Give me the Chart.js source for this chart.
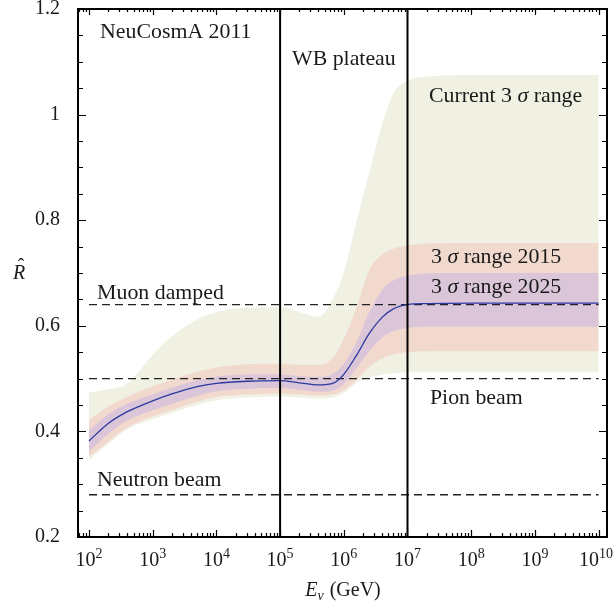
<!DOCTYPE html>
<html>
<head>
<meta charset="utf-8">
<script src="https://cdn.jsdelivr.net/npm/chart.js@4.4.1/dist/chart.umd.min.js"></script>
<style>
  html, body { margin: 0; padding: 0; background: #fff; }
</style>
</head>
<body>
<canvas id="ratio" width="613" height="607"></canvas>
<script>
// neutrino energy grid (GeV)
const energy = [1e2, 2e2, 3.8e2, 6e2, 1e3, 2e3, 5e3, 1e4, 3e4, 1e5, 2e5, 4e5, 7e5, 1e6, 1.6e6, 2.5e6, 4e6, 6e6, 1e7, 2e7, 1e8, 1e9, 1e10];

// flavour ratio R, best fit
const rCentral = [0.382, 0.415, 0.436, 0.447, 0.458, 0.471, 0.485, 0.491, 0.495, 0.496, 0.492, 0.488, 0.492, 0.508, 0.545, 0.585, 0.616, 0.632, 0.640, 0.642, 0.643, 0.643, 0.643];

// current 3 sigma range
const curUpper = [0.474, 0.480, 0.489, 0.513, 0.545, 0.580, 0.612, 0.626, 0.634, 0.635, 0.626, 0.617, 0.655, 0.700, 0.800, 0.890, 0.982, 1.040, 1.064, 1.072, 1.075, 1.075, 1.075];
const curLower = [0.346, 0.376, 0.402, 0.414, 0.423, 0.435, 0.450, 0.459, 0.464, 0.466, 0.464, 0.462, 0.464, 0.473, 0.492, 0.502, 0.508, 0.510, 0.512, 0.512, 0.512, 0.512, 0.512];

// 3 sigma range 2015
const r15Upper = [0.421, 0.447, 0.464, 0.475, 0.485, 0.498, 0.513, 0.521, 0.527, 0.528, 0.526, 0.526, 0.542, 0.575, 0.635, 0.705, 0.735, 0.746, 0.752, 0.756, 0.757, 0.757, 0.757];
const r15Lower = [0.352, 0.380, 0.406, 0.418, 0.428, 0.440, 0.456, 0.465, 0.470, 0.472, 0.470, 0.468, 0.470, 0.478, 0.498, 0.522, 0.538, 0.546, 0.550, 0.552, 0.552, 0.552, 0.552];

// 3 sigma range 2025
const r25Upper = [0.402, 0.432, 0.451, 0.461, 0.470, 0.483, 0.497, 0.504, 0.508, 0.508, 0.505, 0.503, 0.510, 0.528, 0.570, 0.625, 0.668, 0.686, 0.695, 0.699, 0.700, 0.700, 0.700];
const r25Lower = [0.362, 0.395, 0.419, 0.430, 0.440, 0.452, 0.467, 0.476, 0.481, 0.482, 0.479, 0.475, 0.478, 0.490, 0.520, 0.552, 0.578, 0.590, 0.596, 0.598, 0.598, 0.598, 0.598];

// source benchmarks (dashed) and region boundaries
const benchmarks = [0.64, 0.5, 0.28];
const boundaries = [1e5, 1e7];
const benchSpan = [1e2, 1e10];

const xTicks = [1e2, 1e3, 1e4, 1e5, 1e6, 1e7, 1e8, 1e9, 1e10];

const FAMILY = '"Liberation Serif", "DejaVu Serif", serif';
const FONT = '20px ' + FAMILY;
const NOTE_FONT = '21px ' + FAMILY;

const pts = arr => arr.map((v, i) => ({ x: energy[i], y: v }));

// higher order is painted first, so the wide band sits at the bottom
function band(upper, lower, color, order) {
  const common = { pointRadius: 0, borderWidth: 0, cubicInterpolationMode: 'monotone', backgroundColor: color, order };
  return [
    Object.assign({ data: pts(upper), fill: '+1' }, common),
    Object.assign({ data: pts(lower), fill: false }, common)
  ];
}

const datasets = [
  ...band(curUpper, curLower, '#f0f0e3', 9),
  ...band(r15Upper, r15Lower, '#f2d9ce', 8),
  ...band(r25Upper, r25Lower, '#dac5d9', 7),
];
benchmarks.forEach(v => datasets.push({
  data: benchSpan.map(x => ({ x, y: v })), order: 3,
  borderColor: '#222', borderWidth: 1.3, borderDash: [8, 5], pointRadius: 0, fill: false
}));
datasets.push({
  data: pts(rCentral), order: 2, borderColor: '#2b3a9e', borderWidth: 1.3,
  pointRadius: 0, fill: false, cubicInterpolationMode: 'monotone'
});
boundaries.forEach(x => datasets.push({
  data: [{ x, y: 0.2 }, { x, y: 1.2 }], order: 1,
  borderColor: '#000', borderWidth: 2, pointRadius: 0, fill: false
}));

const notes = [
  { parts: [['NeuCosmA 2011']], x: 149, y: 1.145 },
  { parts: [['WB plateau']], x: 1.54e5, y: 1.094 },
  { parts: [['Current 3 '], ['σ', true], [' range']], x: 2.17e7, y: 1.024 },
  { parts: [['3 '], ['σ', true], [' range 2015']], x: 2.34e7, y: 0.719 },
  { parts: [['3 '], ['σ', true], [' range 2025']], x: 2.34e7, y: 0.662 },
  { parts: [['Muon damped']], x: 134, y: 0.651 },
  { parts: [['Pion beam']], x: 2.25e7, y: 0.452 },
  { parts: [['Neutron beam']], x: 134, y: 0.297 }
];

function drawRich(ctx, parts, x, y) {
  ctx.save();
  ctx.translate(x, y);
  ctx.scale(1.04, 1);
  let cx = 0;
  for (const [txt, italic] of parts) {
    ctx.font = (italic ? 'italic ' : '') + NOTE_FONT;
    ctx.fillText(txt, cx, 0);
    cx += ctx.measureText(txt).width;
  }
  ctx.restore();
}

// frame, inward ticks, decade labels, in-plot labels and axis titles
const framePlugin = {
  id: 'frame',
  afterDraw(chart) {
    const { ctx, chartArea: a, scales: { x, y } } = chart;
    ctx.save();
    ctx.strokeStyle = '#000';
    ctx.lineWidth = 1.2;
    ctx.beginPath();
    for (let e = 1; e <= 10; e++) {
      for (let k = 1; k <= 9; k++) {
        const v = k * Math.pow(10, e);
        if (v < x.min || v > x.max) continue;
        const px = Math.round(x.getPixelForValue(v)) + 0.5;
        const len = k === 1 ? 7 : 4;
        ctx.moveTo(px, a.bottom); ctx.lineTo(px, a.bottom - len);
        ctx.moveTo(px, a.top); ctx.lineTo(px, a.top + len - 1);
      }
    }
    for (let i = 0; i <= 20; i++) {
      const v = 0.2 + i * 0.05;
      const py = Math.round(y.getPixelForValue(v)) + 0.5;
      const len = i % 4 === 0 ? 8 : 5;
      ctx.moveTo(a.left, py); ctx.lineTo(a.left + len, py);
      ctx.moveTo(a.right, py); ctx.lineTo(a.right - len, py);
    }
    ctx.stroke();
    ctx.lineWidth = 2;
    ctx.strokeRect(a.left, a.top, a.right - a.left, a.bottom - a.top);

    ctx.fillStyle = '#1a1a1a';
    ctx.textBaseline = 'alphabetic';
    ctx.textAlign = 'left';

    // decade labels 10^n with a raised exponent
    xTicks.forEach(v => {
      const exp = String(Math.round(Math.log10(v)));
      ctx.font = FONT;
      const wb = ctx.measureText('10').width;
      ctx.font = '14px ' + FAMILY;
      const we = ctx.measureText(exp).width;
      let lx = x.getPixelForValue(v) - (wb + we) / 2;
      lx = Math.min(lx, chart.width - wb - we);
      ctx.font = FONT;
      ctx.fillText('10', lx, 566);
      ctx.font = '14px ' + FAMILY;
      ctx.fillText(exp, lx + wb, 558);
    });

    notes.forEach(n => drawRich(ctx, n.parts, x.getPixelForValue(n.x), y.getPixelForValue(n.y)));

    // x title: E_nu (GeV)
    ctx.font = 'italic ' + FONT;
    const wE = ctx.measureText('E').width;
    ctx.font = 'italic 14px ' + FAMILY;
    const wNu = ctx.measureText('ν').width;
    ctx.font = FONT;
    const wG = ctx.measureText(' (GeV)').width;
    let tx = (a.left + a.right) / 2 - (wE + wNu + wG) / 2;
    const ty = 596;
    ctx.font = 'italic ' + FONT;
    ctx.fillText('E', tx, ty); tx += wE;
    ctx.font = 'italic 14px ' + FAMILY;
    ctx.fillText('ν', tx, ty + 4); tx += wNu + 1;
    ctx.font = FONT;
    ctx.fillText(' (GeV)', tx, ty);

    // y title: R hat
    ctx.font = 'italic ' + FONT;
    ctx.textAlign = 'center';
    ctx.fillText('R', 19, 279);
    ctx.font = FONT;
    ctx.fillText('ˆ', 21, 273);
    ctx.restore();
  }
};

new Chart(document.getElementById('ratio'), {
  type: 'line',
  data: { datasets },
  options: {
    responsive: false,
    animation: false,
    layout: { padding: { top: 9, right: 6, left: 0, bottom: 0 } },
    plugins: { legend: { display: false }, tooltip: { enabled: false } },
    scales: {
      x: {
        type: 'logarithmic',
        min: 67.2,
        max: 1.355e10,
        grid: { display: false },
        border: { display: false },
        afterBuildTicks: s => { s.ticks = xTicks.map(v => ({ value: v })); },
        afterFit: s => { s.height = 70; s.paddingLeft = 0; s.paddingRight = 0; },
        ticks: { display: false }
      },
      y: {
        min: 0.2,
        max: 1.2,
        grid: { display: false },
        border: { display: false },
        afterFit: s => { s.width = 78; s.paddingTop = 0; s.paddingBottom = 0; },
        ticks: {
          stepSize: 0.2, padding: 10, color: '#1a1a1a',
          font: { family: FAMILY, size: 20 },
          callback: v => String(+v.toFixed(1))
        }
      }
    }
  },
  plugins: [framePlugin]
});
</script>
</body>
</html>
